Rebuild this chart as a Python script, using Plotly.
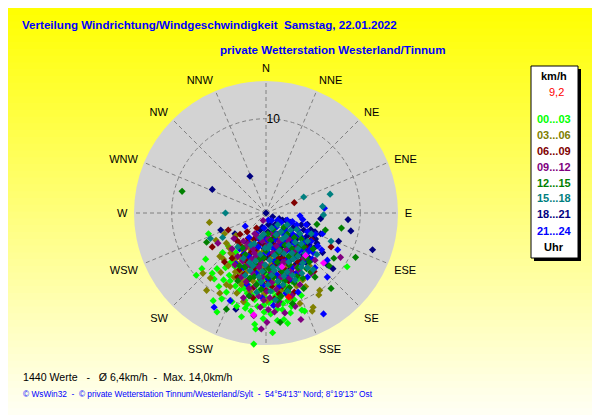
import numpy as np
import plotly.graph_objects as go

# ---------------- data ----------------
# compass tick positions / labels
dir_angles = [0, 22.5, 45, 67.5, 90, 112.5, 135, 157.5, 180, 202.5, 225, 247.5, 270, 292.5, 315, 337.5]
dir_labels = ["N", "NNE", "NE", "ENE", "E", "ESE", "SE", "SSE", "S", "SSW", "SW", "WSW", "W", "WNW", "NW", "NNW"]

# wind points as (east, north) components in km/h, grouped by time of day
pts_00_03 = [(-6.1,-2.2),(-6.4,-4.9),(-6.8,-5.9),(-7.4,-6.6),(-5.2,-5.9),(-4.0,-3.5),(-5.6,-9.3),(-5.2,-10.5),
             (-2.6,-11.0),(-2.2,-10.1),(-1.2,-11.8),(-1.1,-12.3),(0.7,-12.7),(-3.0,-13.9),(-1.3,-13.9),(2.3,-11.7),
             (3.8,-10.3),(8.6,-5.7),(-5.5,-7.0),(-5.0,-7.8),(-4.7,-9.1),(-5.7,-6.4),(1.2,-11.4),(-0.3,-11.2),
             (1.9,-11.3),(2.6,-10.6),(4.1,-10.4),(-3.5,-5.0),(-3.0,-6.2),(-2.5,-7.5),(-2.0,-8.5),(-1.2,-9.2),
             (-0.5,-8.0),(0.3,-9.5),(1.0,-8.8),(1.8,-9.6),(2.5,-8.5),(-3.2,-4.2),(-2.2,-5.6),(-1.5,-6.8),
             (-0.8,-7.3),(0.0,-6.5),(0.8,-7.6),(1.5,-7.0),(2.2,-7.8),(3.0,-9.2),(-1.8,-4.5),(-0.5,-5.2),
             (-2.8,-8.2),(-3.8,-7.2),(-4.3,-5.8),(3.4,-7.0),(1.2,-10.2),(-0.2,-10.5),(-3.6,-9.4),(-4.6,-4.2),
             (-4.2,-8.4),(-1.6,-10.4),(-3.3,-5.7),(-2.7,-6.9),(-2.3,-8.0),(-1.5,-8.7),(-0.9,-9.9),(-0.1,-8.9),
             (0.7,-8.3),(1.5,-9.0),(2.3,-9.3),(-1.9,-7.1),(-1.1,-6.1),(-0.3,-7.0),(0.5,-6.9),(1.9,-8.1),
             (2.7,-9.9),(-3.9,-6.6),(-4.5,-7.1),(-3.1,-9.9),(-2.0,-9.7),(0.5,-10.7),
             (-2.75,-6.25),(-1.75,-7.75),(-0.75,-8.25),(0.25,-8.25),(1.25,-8.25),(2.25,-8.75),(-2.25,-9.25),
             (-0.25,-9.75),(1.75,-10.25),(-3.25,-7.75),(0.75,-9.25),(-1.25,-6.25),(2.75,-7.25),(3.75,-8.75),
             (-3.75,-5.25)]
pts_03_06 = [(-6.0,-1.0),(-5.3,-2.9),(-4.9,-4.6),(-6.7,-6.4),(-6.3,-8.2),(-2.8,-3.4),(5.0,-10.0),(4.9,-10.4),
             (5.7,-8.2),(5.6,-8.7),(-4.9,-8.5),(-4.8,-6.3),(-5.9,-6.9),(-4.2,-7.6),(-4.4,-2.2),(-4.2,-3.2),
             (-3.6,-4.4),(-3.0,-5.4),(-2.4,-4.0),(-1.6,-3.2),(-2.0,-6.2),(-1.2,-5.0),(-0.4,-4.2),(0.4,-5.6),
             (1.2,-4.4),(-3.4,-6.8),(-2.6,-7.6),(-1.4,-7.2),(-0.6,-6.2),(0.8,-6.8),(2.0,-5.8),(2.8,-4.8),
             (3.2,-6.6),(-1.0,-2.6),(0.0,-3.0),(-4.0,-5.6),(-3.8,-7.8),(1.6,-8.2),(2.6,-9.0),(-0.2,-8.6),
             (4.2,-7.8),(4.6,-5.6),(-3.2,-2.4),(-2.4,-9.4),(1.2,-2.6),(3.6,-9.6),(-3.9,-3.7),(-3.3,-4.9),
             (-2.7,-6.3),(-2.1,-3.5),(-1.5,-5.7),(-0.9,-4.1),(-0.3,-6.7),(0.5,-4.9),(1.3,-7.7),(2.3,-6.5),
             (-3.1,-8.5),(-2.9,-7.1),(-1.7,-8.3),(0.1,-9.3),(3.9,-7.1),(-4.5,-4.9),
             (-3.75,-4.25),(-2.75,-4.75),(-2.25,-5.25),(-1.75,-3.75),(-0.75,-4.75),(0.25,-4.25),(-1.25,-6.75),
             (-0.25,-5.75),(0.75,-5.25),(1.75,-6.75),(2.75,-5.75),(-3.25,-6.25),(-2.25,-7.25),(0.75,-7.25),
             (3.25,-7.75)]
pts_06_09 = [(3.0,1.1),(-4.0,-1.8),(-5.7,-3.6),(-2.0,-2.0),(-3.0,-6.8),(6.9,-3.6),(5.1,-6.2),(-3.2,-2.8),
             (-2.6,-3.6),(-1.6,-4.2),(-0.8,-3.4),(0.2,-2.6),(1.0,-3.4),(-2.2,-5.0),(-1.2,-5.8),(-0.2,-4.8),
             (0.8,-5.6),(1.8,-4.8),(2.6,-3.8),(3.4,-5.2),(-2.8,-6.0),(-1.8,-7.0),(-0.6,-7.0),(0.6,-6.4),
             (1.6,-6.2),(2.4,-7.2),(3.6,-6.4),(-3.6,-4.8),(0.0,-8.2),(1.4,-8.6),(2.2,-2.2),(4.4,-4.2),
             (-1.0,-1.6),(0.6,-7.8),(3.0,-8.4),(-4.4,-5.2),(-1.4,-9.0),(4.8,-2.8),(4.3,-3.7),(-2.9,-3.1),
             (-1.9,-2.7),(-1.1,-3.9),(-0.1,-3.5),(0.9,-2.7),(1.7,-4.1),(-2.5,-4.5),(-1.7,-5.5),(-0.7,-5.5),
             (0.3,-4.3),(1.3,-6.7),(2.1,-6.1),(-2.3,-6.5),(-1.3,-7.9),(-0.3,-7.5),(0.9,-9.1),(2.9,-5.7),
             (3.9,-4.9),
             (-2.75,-2.25),(-1.25,-2.75),(-0.25,-2.25),(0.75,-3.75),(1.75,-3.25),(2.75,-2.75),(-1.75,-4.75),
             (-0.25,-6.25),(1.25,-4.75),(2.25,-5.25),(3.25,-4.25),(-1.25,-6.25),(0.25,-7.25),(1.75,-7.75),
             (2.75,-6.25)]
pts_09_12 = [(-0.3,-0.8),(-3.4,-2.7),(-1.2,-2.2),(7.9,-4.7),(3.7,-11.3),(-0.5,-12.3),(0.1,-11.6),(-2.4,-3.0),
             (-1.4,-3.8),(-0.4,-3.0),(0.6,-2.2),(1.4,-3.0),(2.4,-2.8),(-3.0,-4.6),(-2.0,-5.6),(-1.0,-4.6),
             (0.0,-5.6),(1.0,-4.4),(2.0,-5.2),(3.0,-4.2),(4.0,-4.8),(-2.6,-6.8),(-1.4,-6.4),(-0.4,-6.8),
             (0.6,-7.4),(1.6,-6.8),(2.6,-6.2),(3.6,-7.6),(-1.8,-8.0),(-0.8,-8.8),(0.4,-9.0),(1.4,-9.4),
             (2.4,-8.0),(-3.6,-3.8),(4.8,-6.4),(-0.6,-10.0),(2.0,-10.6),(5.2,-5.0),(-2.4,-9.0),(-5.1,-3.2),
             (-1.9,-3.3),(-0.9,-2.5),(0.1,-3.5),(1.1,-3.5),(2.1,-3.9),(-2.5,-5.1),(-1.5,-4.9),(-0.5,-5.3),
             (0.5,-6.3),(1.5,-5.7),(2.5,-6.9),(3.5,-6.1),(-2.1,-7.3),(-1.1,-7.7),(0.1,-8.3),(1.1,-8.1),
             (-3.3,-5.5),(0.9,-10.5),(3.1,-9.9),(-1.3,-10.9),
             (-2.25,-3.75),(-1.25,-4.25),(0.25,-2.75),(1.25,-2.25),(2.25,-3.25),(3.25,-3.75),(-0.75,-5.75),
             (0.75,-4.25),(1.75,-5.25),(3.25,-5.75),(-1.75,-8.75),(-0.25,-9.25),(1.25,-9.75),(2.75,-8.75),
             (0.25,-10.25)]
pts_12_15 = [(-8.9,2.3),(8.0,-1.6),(9.5,-4.7),(6.3,-1.8),(5.4,-1.2),(7.2,-4.8),(6.7,-5.6),(-6.3,-3.1),
             (-4.2,-10.2),(6.9,-8.0),(1.5,-11.6),(1.0,-2.4),(2.0,-3.4),(3.0,-2.6),(4.0,-3.6),(0.0,-4.0),
             (1.2,-5.2),(2.4,-4.6),(3.4,-5.8),(4.6,-5.2),(-1.2,-5.4),(-0.2,-6.2),(0.8,-6.8),(2.0,-7.2),
             (3.0,-7.4),(4.0,-8.0),(-2.2,-4.4),(-1.0,-7.6),(1.6,-8.8),(2.8,-9.6),(5.2,-6.8),(-3.0,-7.2),
             (0.2,-2.2),(3.6,-3.4),(5.0,-3.8),(-1.8,-8.8),(-2.8,-5.6),(0.5,-2.9),(1.5,-3.9),(2.5,-5.5),
             (3.9,-6.9),(-0.7,-4.9),(0.3,-5.9),(1.3,-7.3),(2.5,-7.9),(-1.7,-6.9),(-0.5,-8.1),(4.3,-5.9),
             (3.3,-4.5),(-2.5,-3.7),(1.9,-1.5),
             (0.75,-1.75),(2.25,-2.25),(3.75,-2.75),(1.25,-4.25),(2.75,-3.75),(4.25,-4.75),(-0.25,-4.75),
             (1.75,-6.25),(3.25,-6.75),(-1.25,-6.75),(0.25,-6.75),(2.25,-8.25),(4.75,-6.25),(-2.25,-5.75),
             (1.25,-9.25)]
pts_15_18 = [(4.0,1.7),(6.8,2.0),(6.0,0.7),(6.1,-0.2),(6.9,-3.0),(-4.3,0.0),(-5.9,-2.7),(0.6,-1.6),
             (1.6,-2.0),(2.6,-1.8),(3.6,-2.2),(-0.6,-2.6),(0.4,-3.4),(1.4,-4.0),(2.4,-3.4),(3.4,-3.8),
             (4.4,-3.0),(-1.6,-3.4),(-0.6,-4.4),(0.4,-5.0),(1.4,-5.8),(2.4,-5.2),(3.4,-4.6),(4.4,-5.8),
             (-2.4,-4.8),(-1.4,-5.6),(-0.4,-6.2),(0.6,-6.6),(1.8,-7.6),(2.8,-6.6),(3.8,-6.4),(-2.2,-6.6),
             (-1.0,-8.4),(0.2,-7.6),(4.8,-2.2),(5.4,-4.4),(-3.0,-3.6),(1.0,-9.2),(-4.6,-2.6),(5.0,-6.0),
             (1.1,-2.3),(2.1,-2.5),(3.1,-3.1),(-0.1,-3.7),(0.9,-4.5),(1.9,-4.3),(2.9,-4.9),(3.9,-5.3),
             (-1.1,-5.1),(-0.1,-5.5),(0.9,-6.1),(1.9,-6.7),(3.1,-7.1),(-1.7,-6.1),(-0.5,-7.3),(0.5,-8.3),
             (2.3,-8.3),(4.1,-4.3),
             (1.25,-1.25),(2.25,-1.25),(3.25,-1.75),(-0.25,-2.25),(1.75,-2.75),(2.75,-4.25),(3.75,-3.25),
             (0.25,-3.75),(-1.25,-3.25),(0.75,-5.75),(2.25,-6.25),(3.75,-5.75),(-0.75,-6.75),(1.25,-7.25),
             (-1.75,-5.25)]
pts_18_21 = [(-1.7,3.9),(-5.7,2.5),(8.7,-0.7),(9.0,-1.9),(11.3,-3.9),(7.7,-3.0),(7.1,-5.9),(4.4,-1.2),
             (0.7,-0.4),(0.0,0.0),(5.8,-0.6),(5.2,-2.0),(-4.8,-1.8),(-3.3,-2.2),(-0.4,-1.5),(-3.2,-10.2),
             (2.1,-0.8),(2.6,-1.0),(1.4,-0.6),(1.0,-1.2),(2.0,-1.6),(3.0,-1.4),(4.0,-1.8),(0.2,-2.0),
             (1.2,-2.6),(2.2,-2.6),(3.2,-2.8),(4.2,-2.6),(5.0,-2.6),(-0.6,-1.8),(0.6,-3.2),(1.6,-3.6),
             (2.6,-3.2),(3.6,-3.6),(4.6,-3.4),(-1.2,-2.8),(-0.2,-3.8),(0.8,-4.2),(1.8,-4.4),(2.8,-4.2),
             (3.8,-4.6),(5.4,-3.2),(-2.0,-3.2),(-1.0,-4.2),(0.2,-4.8),(1.2,-5.4),(2.2,-5.8),(3.2,-5.4),
             (4.6,-4.8),(-1.6,-5.6),(0.0,-6.6),(1.4,-7.0),(5.8,-2.2),(6.0,-4.2),(6.5,-5.5),(0.5,-1.3),
             (1.7,-1.9),(2.7,-2.5),(3.5,-2.3),(4.5,-2.3),(-0.1,-2.5),(1.1,-3.7),(2.1,-3.5),(3.1,-3.7),
             (4.1,-4.1),(-0.7,-3.3),(0.5,-4.5),(1.5,-4.9),(2.5,-5.1),(3.7,-5.1),(-1.3,-4.9),(-0.5,-5.7),
             (0.7,-6.1),(2.7,-6.3),(5.1,-3.7),
             (1.75,-0.75),(2.75,-1.75),(3.75,-1.25),(4.75,-1.75),(0.25,-1.25),(1.25,-2.25),(2.25,-3.25),
             (3.25,-3.25),(4.25,-3.25),(5.25,-2.75),(0.75,-2.75),(-0.25,-3.25),(1.75,-4.75),(3.25,-4.25),
             (4.25,-5.25)]
pts_21_24 = [(2.8,-0.9),(6.2,0.5),(7.6,-3.9),(5.9,-3.9),(6.0,-2.2),(6.5,-5.0),(-2.2,-1.4),(-5.5,-10.0),
             (-3.8,-9.3),(6.1,-10.7),(6.5,-6.8),(3.6,-0.3),(3.9,-0.7),(0.6,-0.8),(1.6,-1.0),(2.4,-1.2),
             (3.4,-1.8),(4.4,-2.0),(-0.2,-1.6),(0.8,-2.0),(1.8,-2.2),(2.8,-2.2),(3.8,-2.6),(4.8,-3.0),
             (-1.0,-2.2),(0.0,-2.8),(1.0,-2.8),(2.0,-3.0),(3.0,-3.2),(4.0,-3.8),(5.0,-4.2),(-1.8,-2.6),
             (-0.8,-3.6),(0.2,-4.2),(1.2,-3.8),(2.2,-4.0),(3.2,-4.6),(4.2,-5.0),(-2.8,-3.8),(-1.8,-4.6),
             (-0.6,-5.0),(0.6,-5.8),(1.8,-5.2),(2.8,-5.8),(3.8,-5.4),(-2.4,-5.8),(-1.0,-6.4),(0.2,-7.0),
             (1.4,-7.8),(2.6,-7.0),(3.4,-8.4),(-2.0,-7.6),(-0.4,-9.0),(0.8,-9.8),(-3.2,-5.4),(5.2,-5.8),
             (4.4,-6.8),(1.1,-1.5),(2.1,-1.9),(3.1,-2.5),(4.1,-3.1),(0.3,-3.3),(1.5,-3.3),(2.5,-3.7),
             (3.5,-4.1),(4.5,-4.1),(-0.3,-4.5),(0.9,-5.1),(2.3,-4.9),(3.3,-6.3),(-1.5,-3.5),(-2.3,-4.3),
             (1.1,-6.5),(-0.3,-7.7),(2.1,-8.5),(4.9,-4.9),(5.5,-3.5),
             (0.25,-0.75),(1.25,-0.75),(2.25,-0.75),(3.25,-1.25),(4.25,-1.25),(5.25,-2.25),(-0.75,-2.75),
             (0.75,-3.75),(2.75,-2.75),(3.75,-3.75),(4.75,-3.75),(-1.75,-3.25),(-0.25,-6.25),(1.25,-6.75),
             (2.25,-6.75)]
pts_extra = [(-1.3,-10.8),(4.2,-4.5),(1.7,-5.7),(6.1,-5.3)]
pts_current = [(2.4,-8.9)]

legend_entries = [
    ("00...03", "#00ff00", pts_00_03),
    ("03...06", "#808000", pts_03_06),
    ("06...09", "#800000", pts_06_09),
    ("09...12", "#800080", pts_09_12),
    ("12...15", "#008000", pts_12_15),
    ("15...18", "#008080", pts_15_18),
    ("18...21", "#000080", pts_18_21),
    ("21...24", "#0000ff", pts_21_24),
]
extra_entries = [
    ("extra", "#ff00ff", pts_extra),
    ("current", "#ff0000", pts_current),
]
# drawing order of the time groups (mixes the colours in the dense core)
draw_order = [6, 0, 1, 2, 7, 3, 4, 5]

current_text = "9,2"
unit_text = "km/h"
stats_text = "1440 Werte   -   Ø 6,4km/h  -  Max. 14,0km/h"
footer_text = "© WsWin32  -  © private Wetterstation Tinnum/Westerland/Sylt  -  54°54'13'' Nord; 8°19'13'' Ost"
title_1 = "Verteilung Windrichtung/Windgeschwindigkeit  Samstag, 22.01.2022"
title_2 = "private Wetterstation Westerland/Tinnum"

# ---------------- figure ----------------
OFF = 8                # page body margin of the html page
W, H = 600 - OFF, 415 - OFF
SANS = "Liberation Sans, Arial, sans-serif"

def px(x):
    return (x - OFF) / W

def py(y):
    return 1 - (y - OFF) / H

fig = go.Figure()
for name, col, pts in [legend_entries[i] for i in draw_order] + extra_entries:
    a = np.array(pts, dtype=float)
    speed = np.hypot(a[:, 0], a[:, 1])
    theta = np.degrees(np.arctan2(a[:, 0], a[:, 1])) % 360
    fig.add_trace(go.Scatterpolar(
        r=speed, theta=theta, mode="markers", name=name,
        marker=dict(symbol="diamond", size=5.5, color=col, line=dict(width=0)),
        showlegend=False, hoverinfo="skip"))

shapes = []
n = 60
for i in range(n):
    b = int(round(245 * (i + 0.5) / n))
    shapes.append(dict(type="rect", xref="paper", yref="paper", layer="below",
                       x0=0, x1=1, y0=1 - (i + 1) / n - 0.002, y1=1 - i / n,
                       fillcolor=f"rgb(255,255,{b})", line=dict(width=0)))
# legend box with shadow
shapes.append(dict(type="rect", xref="paper", yref="paper", layer="above",
                   x0=px(534), x1=px(581), y0=py(261), y1=py(69),
                   fillcolor="black", line=dict(width=0)))
shapes.append(dict(type="rect", xref="paper", yref="paper", layer="above",
                   x0=px(531), x1=px(578), y0=py(258), y1=py(66),
                   fillcolor="white", line=dict(color="black", width=1)))

ann = []
def text(x, y, s, size, color, family=SANS, bold=False, xanchor="center"):
    if bold:
        s = "<b>" + s + "</b>"
    ann.append(dict(x=px(x), y=py(y), xref="paper", yref="paper", text=s, showarrow=False,
                    xanchor=xanchor, yanchor="middle",
                    font=dict(size=size, color=color, family=family)))

text(20, 25, title_1, 11.6, "#0000ff", SANS, True, "left")
text(218, 49, title_2, 11.6, "#0000ff", SANS, True, "left")
text(554, 76, unit_text, 11, "black", SANS, True)
text(556, 92, current_text, 11, "#ff0000", SANS, False)
legend_y = [119, 135, 151, 167, 183, 198, 214, 231]
for (name, col, _), yy in zip(legend_entries, legend_y):
    text(554, yy, name, 11, col, SANS, True)
text(554, 247, "Uhr", 11, "black", SANS, True)
text(21, 377, stats_text, 10.6, "black", SANS, False, "left")
text(21, 394, footer_text, 8.3, "#0000ff", SANS, False, "left")

fig.update_layout(
    width=W, height=H, autosize=False,
    margin=dict(l=0, r=0, t=0, b=0),
    paper_bgcolor="#ffff00",
    showlegend=False,
    shapes=shapes,
    annotations=ann,
    polar=dict(
        domain=dict(x=[px(134), px(398)], y=[py(345), py(81)]),
        bgcolor="#d3d3d3",
        angularaxis=dict(
            direction="clockwise", rotation=90,
            tickmode="array", tickvals=dir_angles, ticktext=dir_labels,
            showline=False, showgrid=True, gridcolor="#808080", gridwidth=1, griddash="4px,3px",
            ticks="outside", ticklen=4, tickcolor="rgba(0,0,0,0)",
            tickfont=dict(family=SANS, size=11, color="black")),
        radialaxis=dict(
            range=[0, 14], tickmode="array", tickvals=[10], ticktext=["10"],
            angle=90, tickangle=90, showline=False, ticks="", showgrid=True,
            gridcolor="#808080", gridwidth=1, griddash="4px,3px",
            tickfont=dict(family=SANS, size=12, color="black")),
    ),
)

fig.write_html("out.html")
